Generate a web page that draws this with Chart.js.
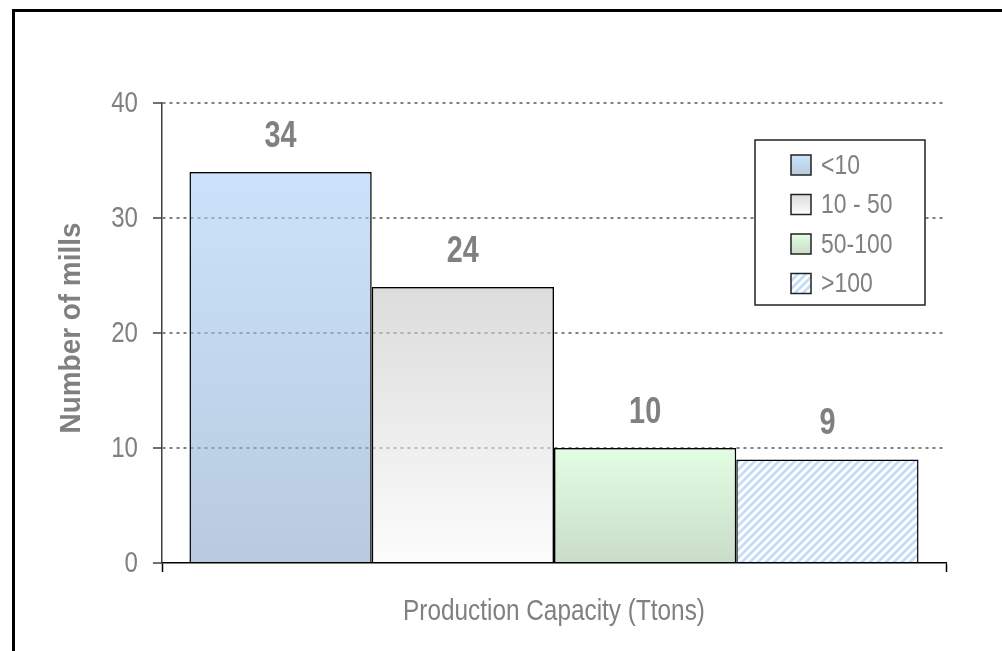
<!DOCTYPE html>
<html>
<head>
<meta charset="utf-8">
<script src="https://cdn.jsdelivr.net/npm/chart.js@4"></script>
<style>
    body { margin: 0; background: #fff; overflow: hidden; }
    #frame { position: absolute; left: 12px; top: 9px; width: 1100px; height: 800px; border: 3px solid #000; }
    #wrap { position: absolute; left: 0; top: 0; width: 1002px; height: 651px; }
</style>
</head>
<body>
<div id="frame"></div>
<div id="wrap"><canvas id="chart"></canvas></div>
<script>
    // data
    const categories = ['<10', '10 - 50', '50-100', '>100'];
    const mills = [34, 24, 10, 9];
    const yMax = 40, yStep = 10;
    const xTitle = 'Production Capacity (Ttons)';
    const yTitle = 'Number of mills';

    // no narrow font installed -> squeeze Liberation Sans horizontally
    const FONT = "'Liberation Sans', Arial, sans-serif";
    const GRAY = '#808080';
    // top / bottom colour of each bar (as seen over white)
    const fills = [['#cbe3fa', '#b8cadf'], ['#dcdcdc', '#fcfcfc'], ['#e3fde3', '#c9dcc9']];

    // colour with alpha that gives hex when laid over white
    function over(hex, a = 0.6) {
        let n = parseInt(hex.slice(1), 16);
        let c = [n >> 16, n >> 8 & 255, n & 255].map(v => Math.round(255 - (255 - v) / a));
        return `rgba(${c.join(',')},${a})`;
    }

    // text drawn with a horizontal squeeze (narrow look)
    function squeeze(ctx, text, x, y, sx, rot = 0) {
        ctx.save();
        ctx.translate(x, y);
        if (rot) ctx.rotate(rot);
        ctx.scale(sx, 1);
        ctx.fillText(text, 0, 0);
        ctx.restore();
    }

    // diagonal hatch for >100
    function makeHatch() {
        let s = 8, cv = document.createElement('canvas');
        cv.width = cv.height = s;
        let c = cv.getContext('2d');
        c.fillStyle = '#fff';
        c.fillRect(0, 0, s, s);
        c.strokeStyle = '#c4dcf6';
        c.lineWidth = 2.8;
        c.beginPath();
        c.moveTo(-1, s + 1); c.lineTo(s + 1, -1);
        c.moveTo(-1, 1); c.lineTo(1, -1);
        c.moveTo(s - 1, s + 1); c.lineTo(s + 1, s - 1);
        c.stroke();
        return c.createPattern(cv, 'repeat');
    }
    const hatch = makeHatch();

    function barFill(i) {
        return ctx => {
            if (i === 3) return hatch;
            let chart = ctx.chart;
            if (!chart.chartArea) return over(fills[i][0]);
            let y = chart.scales.y;
            let g = chart.ctx.createLinearGradient(0, y.getPixelForValue(mills[i]), 0, y.getPixelForValue(0));
            g.addColorStop(0, over(fills[i][0]));
            g.addColorStop(1, over(fills[i][1]));
            return g;
        };
    }

    // tick labels + axis titles
    const axisText = {
        id: 'axisText',
        afterDraw(chart) {
            let ctx = chart.ctx, area = chart.chartArea, y = chart.scales.y;
            ctx.save();
            ctx.fillStyle = GRAY;
            ctx.textBaseline = 'middle';
            ctx.font = `29px ${FONT}`;
            ctx.textAlign = 'right';
            y.ticks.forEach(t => squeeze(ctx, String(t.value), y.right - 24, y.getPixelForValue(t.value) + 1, 0.83));
            ctx.textAlign = 'center';
            squeeze(ctx, xTitle, (area.left + area.right) / 2, area.bottom + 49, 0.84);
            ctx.font = `bold 30px ${FONT}`;
            squeeze(ctx, yTitle, 72, (area.top + area.bottom) / 2 - 5, 0.93, -Math.PI / 2);
            ctx.restore();
        }
    };

    const valueLabels = {
        id: 'valueLabels',
        afterDatasetsDraw(chart) {
            let ctx = chart.ctx;
            ctx.save();
            ctx.font = `bold 36px ${FONT}`;
            ctx.fillStyle = GRAY;
            ctx.textAlign = 'center';
            ctx.textBaseline = 'middle';
            chart.data.datasets.forEach((ds, i) => {
                let bar = chart.getDatasetMeta(i).data[0];
                squeeze(ctx, String(ds.data[0]), bar.x, bar.y - 35, 0.8);
            });
            ctx.restore();
        }
    };

    const boxLegend = {
        id: 'boxLegend',
        afterDraw(chart) {
            let ctx = chart.ctx, area = chart.chartArea;
            let left = area.right - 191, top = area.top + 37, w = 170, h = 165;
            ctx.save();
            ctx.fillStyle = '#fff';
            ctx.fillRect(left, top, w, h);
            ctx.strokeStyle = '#222';
            ctx.lineWidth = 1.5;
            ctx.strokeRect(left, top, w, h);
            ctx.font = `28px ${FONT}`;
            ctx.textBaseline = 'middle';
            categories.forEach((name, i) => {
                let cy = top + 25 + i * 39.5, sx = left + 36, sy = cy - 10;
                if (i === 3) ctx.fillStyle = hatch;
                else {
                    let g = ctx.createLinearGradient(0, sy, 0, sy + 20);
                    g.addColorStop(0, fills[i][0]);
                    g.addColorStop(1, fills[i][1]);
                    ctx.fillStyle = g;
                }
                ctx.fillRect(sx, sy, 20, 20);
                ctx.strokeStyle = '#222';
                ctx.lineWidth = 1.5;
                ctx.strokeRect(sx, sy, 20, 20);
                ctx.fillStyle = GRAY;
                squeeze(ctx, name, left + 66, cy + 1, 0.82);
            });
            ctx.restore();
        }
    };

    new Chart(document.getElementById('chart'), {
        type: 'bar',
        data: {
            labels: [''],
            datasets: categories.map((name, i) => ({
                label: name,
                data: [mills[i]],
                backgroundColor: barFill(i),
                borderColor: '#000',
                borderWidth: 1.5,
                borderSkipped: 'start',
            }))
        },
        options: {
            responsive: true,
            maintainAspectRatio: false,
            animation: false,
            layout: { padding: { top: 103, right: 56, left: 0, bottom: 0 } },
            datasets: { bar: { barPercentage: 1, categoryPercentage: 0.93 } },
            plugins: { legend: { display: false }, tooltip: { enabled: false } },
            scales: {
                x: {
                    afterFit: s => { s.height = 88; },
                    ticks: { display: false },
                    grid: {
                        offset: true, drawOnChartArea: false, drawTicks: true,
                        tickLength: 9, tickColor: '#000', tickWidth: 1.5
                    },
                    border: { color: '#000', width: 1.5 }
                },
                y: {
                    min: 0, max: yMax,
                    afterFit: s => { s.width = 162; },
                    ticks: { stepSize: yStep, display: false },
                    grid: {
                        color: c => c.tick && c.tick.value === 0 ? 'rgba(0,0,0,0)' : GRAY,
                        lineWidth: 2, tickLength: 9, tickColor: '#404040', tickWidth: 1.5,
                        tickBorderDash: [], borderDash: [3, 4]
                    },
                    border: { color: '#404040', width: 1.5, dash: [3, 4] }
                }
            }
        },
        plugins: [valueLabels, boxLegend, axisText]
    });
</script>
</body>
</html>
